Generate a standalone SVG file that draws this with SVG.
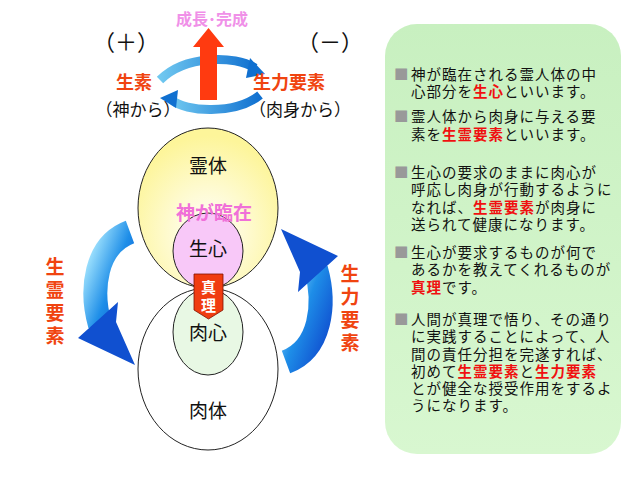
<svg xmlns="http://www.w3.org/2000/svg" width="638" height="479" viewBox="0 0 638 479">
<defs>
<style>
text{font-family:"Noto Sans CJK JP","Noto Sans CJK SC",sans-serif}
.blk{fill:#111;font-size:19px}
.red{fill:#f04410;font-weight:bold;font-size:18px}
.pt{fill:#111;font-size:14.5px;letter-spacing:1px}
.hl{fill:#f01010;font-weight:bold}
.bul{fill:#999}
.vt{fill:#f04410;font-weight:bold;font-size:19px}
</style>
<radialGradient id="gy" cx="0.5" cy="0.65" r="0.6"><stop offset="0" stop-color="#ffffff"/><stop offset="1" stop-color="#fdf59a"/></radialGradient>
<linearGradient id="gp" x1="0" y1="0" x2="0" y2="1"><stop offset="0" stop-color="#c8f0c0"/><stop offset="1" stop-color="#d8f7d0"/></linearGradient>
<linearGradient id="gb" x1="0" y1="0" x2="1" y2="1"><stop offset="0" stop-color="#a8e8ff"/><stop offset="0.5" stop-color="#1e8ee8"/><stop offset="1" stop-color="#1050d0"/></linearGradient>
<linearGradient id="gb2" x1="0" y1="0" x2="1" y2="0"><stop offset="0" stop-color="#70c8f0"/><stop offset="1" stop-color="#1070d0"/></linearGradient>
</defs>
<rect x="385" y="24" width="236" height="430" rx="32" fill="url(#gp)"/>
<g id="connectors">
<path d="M160,80 C185,55 235,55 255,68" fill="none" stroke="url(#gb2)" stroke-width="9"/>
<polygon points="250,58 265,74 246,78" fill="#1070d0"/>
<path d="M260,95 C235,115 185,112 172,100" fill="none" stroke="url(#gb2)" stroke-width="9"/>
<polygon points="160,98 178,90 176,108" fill="#1070d0"/>
<path d="M130,232 C95,245 90,290 100,325" fill="none" stroke="url(#gb)" stroke-width="24"/>
<polygon points="78,338 118,302 116,322 135,365" fill="#1050d0"/>
<path d="M286,362 C321,349 326,304 316,269" fill="none" stroke="url(#gb)" stroke-width="24"/>
<polygon points="338,256 298,292 300,272 281,229" fill="#1050d0"/>
<polygon points="200,100 217,100 217,47 224,47 208.5,28 193,47 200,47" fill="#ff3a10"/>
</g>
<g id="spirit"><ellipse cx="208" cy="208" rx="70" ry="80" fill="url(#gy)" stroke="#222" stroke-width="1"/><text class="blk" x="208" y="173" text-anchor="middle">霊体</text></g>
<g id="body"><ellipse cx="208" cy="369" rx="70" ry="81" fill="#fff" stroke="#222" stroke-width="1"/><text class="blk" x="208" y="418" text-anchor="middle">肉体</text></g>
<g id="seishin"><ellipse cx="208" cy="251" rx="35" ry="38" fill="#f8c8f8" stroke="#222" stroke-width="1"/><text class="blk" x="208" y="256" text-anchor="middle">生心</text></g>
<g id="nikushin"><ellipse cx="208" cy="332" rx="35" ry="43" fill="#e8f8e4" stroke="#222" stroke-width="1"/><text class="blk" x="208" y="340" text-anchor="middle">肉心</text></g>
<text x="214" y="220" text-anchor="middle" style="fill:#f070d8;font-weight:bold;font-size:19px">神が臨在</text>
<g id="shinri"><polygon points="194,274 223,274 223,310 208.5,319 194,310" fill="#f03c10" stroke="#801000" stroke-width="0.8"/><text x="208.5" y="293" text-anchor="middle" style="fill:#fff;font-weight:bold;font-size:15px">真</text><text x="208.5" y="311" text-anchor="middle" style="fill:#fff;font-weight:bold;font-size:15px">理</text></g>
<text x="212" y="25" text-anchor="middle" style="fill:#f090e8;font-weight:bold;font-size:16px">成長･完成</text>
<text x="126" y="50" text-anchor="middle" style="fill:#111;font-size:22px">（＋）</text>
<text x="330" y="50" text-anchor="middle" style="fill:#111;font-size:22px">（－）</text>
<text class="red" x="134" y="89" text-anchor="middle">生素</text>
<text class="red" x="289" y="89" text-anchor="middle">生力要素</text>
<text x="138" y="116" text-anchor="middle" style="fill:#111;font-size:17px">（神から）</text>
<text x="300" y="116" text-anchor="middle" style="fill:#111;font-size:17px">（肉身から）</text>
<g class="vt" text-anchor="middle">
<text x="55" y="274">生</text><text x="55" y="297">霊</text><text x="55" y="320">要</text><text x="55" y="343">素</text>
<text x="350" y="281">生</text><text x="350" y="304">力</text><text x="350" y="327">要</text><text x="350" y="350">素</text>
</g>
<g id="panel" class="pt">
<text class="bul" x="394" y="80">■</text><text x="411" y="80">神が臨在される霊人体の中</text>
<text x="411" y="97">心部分を<tspan class="hl">生心</tspan>といいます。</text>
<text class="bul" x="394" y="122">■</text><text x="411" y="122">霊人体から肉身に与える要</text>
<text x="411" y="140">素を<tspan class="hl">生霊要素</tspan>といいます。</text>
<text class="bul" x="394" y="178">■</text><text x="411" y="178">生心の要求のままに肉心が</text>
<text x="411" y="195">呼応し肉身が行動するように</text>
<text x="411" y="213">なれば、<tspan class="hl">生霊要素</tspan>が肉身に</text>
<text x="411" y="230">送られて健康になります。</text>
<text class="bul" x="394" y="258">■</text><text x="411" y="258">生心が要求するものが何で</text>
<text x="411" y="275">あるかを教えてくれるものが</text>
<text x="411" y="293"><tspan class="hl">真理</tspan>です。</text>
<text class="bul" x="394" y="325">■</text><text x="411" y="325">人間が真理で悟り、その通り</text>
<text x="411" y="342">に実践することによって、人</text>
<text x="411" y="360">間の責任分担を完遂すれば、</text>
<text x="411" y="377">初めて<tspan class="hl">生霊要素</tspan>と<tspan class="hl">生力要素</tspan></text>
<text x="411" y="394">とが健全な授受作用をするよ</text>
<text x="411" y="411">うになります。</text>
</g>
</svg>
